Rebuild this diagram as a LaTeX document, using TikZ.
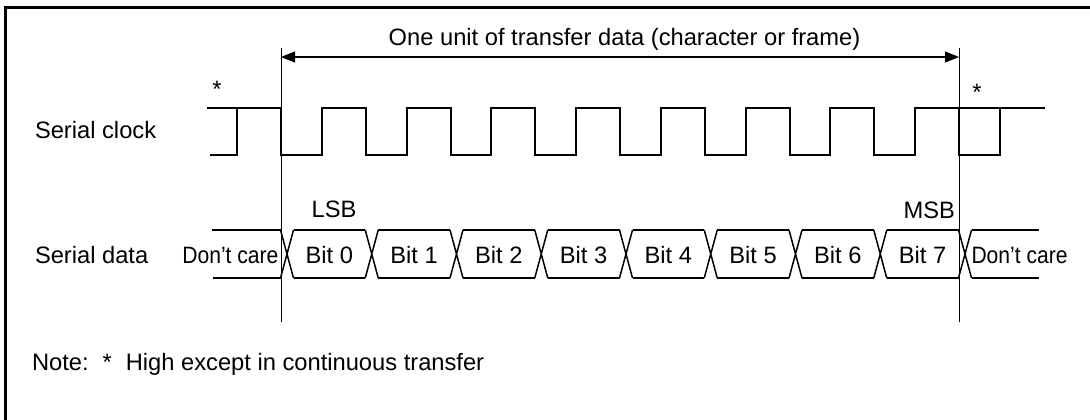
\documentclass[tikz,border=0pt]{standalone}
\usepackage{fontspec}
\setmainfont{Liberation Sans}
\usetikzlibrary{arrows.meta}
\begin{document}
\begin{tikzpicture}[x=1pt,y=-1pt,
  lbl/.style={font=\fontsize{23.7}{28}\selectfont, inner sep=0pt, outer sep=0pt},
  clk/.style={line width=2pt, line join=miter, line cap=rect},
  dat/.style={line width=1.5pt},
  refl/.style={line width=1pt},
  dimarrow/.style={line width=1.2pt, {Triangle[length=14pt,width=11pt]}-{Triangle[length=14pt,width=11pt]}},
  frameline/.style={line width=2.5pt}]
\useasboundingbox (0,0) rectangle (1090,420);
% frame
\draw[frameline] (5.5,420) -- (5.5,7.5) -- (1090,7.5);
% reference lines
\coordinate (s0) at (281,48);
\coordinate (s1) at (281,322);
\coordinate (e0) at (959,48);
\coordinate (e1) at (959,322);
\draw[refl] (s0) -- (s1);
\draw[refl] (e0) -- (e1);
% dimension arrow
\coordinate (a0) at (281,57);
\coordinate (a1) at (959,57);
\draw[dimarrow] (a0) -- (a1);
\node[lbl, anchor=base] (title) at (624.5,45.5) {One unit of transfer data (character or frame)};
% clock
\draw[clk] (211,155) -- (237,155)
  foreach \k in {0,...,8} { -- (237+84.75*\k,108) -- (281+84.75*\k,108) -- (281+84.75*\k,155) -- (321.75+84.75*\k,155) }
  -- (999.75,108) -- (1044,108);
\draw[clk] (208,108) -- (237,108);
\draw[clk] (959,108) -- (999.75,108);
% data
\foreach \k in {0,...,8} {
  \pgfmathsetmacro\c{287+84.75*\k}
  \draw[dat] (\c-6.5,230) -- (\c+6.5,278) (\c-6.5,278) -- (\c+6.5,230);
}
\foreach \k in {0,...,7} {
  \pgfmathsetmacro\c{287+84.75*\k}
  \draw[dat] (\c+6.5,230) -- (\c+78.25,230) (\c+6.5,278) -- (\c+78.25,278);
  \node[lbl, anchor=base] (b\k) at (\c+42.375,263) {Bit \k};
}
\draw[dat] (212,230) -- (280.5,230) (213,278) -- (280.5,278);
\draw[dat] (971.5,230) -- (1039,230) (971.5,278) -- (1039,278);
% labels
\node[lbl, anchor=base west] (clklbl) at (35,138) {Serial clock};
\node[lbl, anchor=base west] (datlbl) at (35,263) {Serial data};
\node[lbl, anchor=base east] (dcl) at (278.5,263) {\scalebox{0.89}[1]{Don’t care}};
\node[lbl, anchor=base west] (dcr) at (971.5,263) {\scalebox{0.89}[1]{Don’t care}};
\node[lbl, anchor=base] (lsb) at (334,217) {LSB};
\node[lbl, anchor=base east] (msb) at (955,218) {MSB};
\node[lbl, anchor=base] (st1) at (217,97.5) {*};
\node[lbl, anchor=base] (st2) at (977,100) {*};
\node[lbl, anchor=base west] (note) at (32,370) {Note:\hspace{14pt}*\hspace{14pt}High except in continuous transfer};
\end{tikzpicture}
\end{document}
